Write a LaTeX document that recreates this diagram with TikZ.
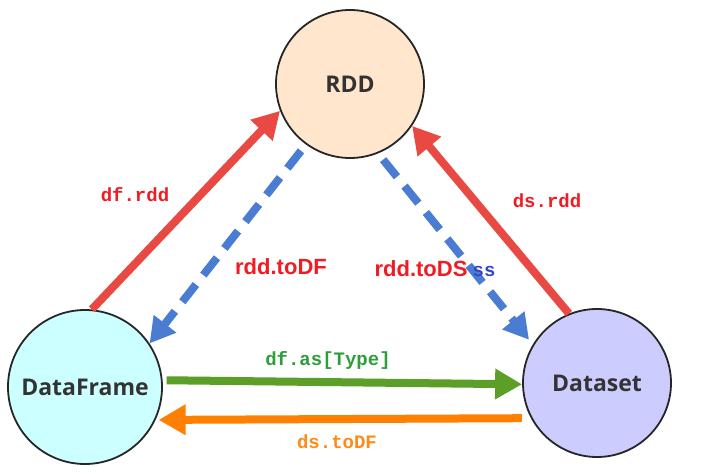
\documentclass[tikz,border=0pt]{standalone}
\usepackage{fontspec}
\setmainfont{Open Sans}
\newfontfamily\labfont{Liberation Sans}
\newfontfamily\codefont{Liberation Mono}
\usetikzlibrary{arrows.meta}
\definecolor{rddfill}{HTML}{FFE6CC}
\definecolor{dffill}{HTML}{CCFFFF}
\definecolor{dsfill}{HTML}{CCCCFF}
\definecolor{redarr}{HTML}{E84A43}
\definecolor{bluearr}{HTML}{4A7CD2}
\definecolor{greenarr}{HTML}{5B9E28}
\definecolor{orangearr}{HTML}{FF8000}
\definecolor{labred}{HTML}{F01C24}
\definecolor{labgreen}{HTML}{2E9E3A}
\definecolor{laborange}{HTML}{FF8A1A}
\definecolor{labblue}{HTML}{3346C8}
\definecolor{nodetext}{HTML}{333333}
\begin{document}
\begin{tikzpicture}[x=1bp,y=-1bp,
  circ/.style={circle, draw=black!85, line width=1.8bp, inner sep=0pt,
    font=\fontsize{23bp}{26bp}\selectfont\bfseries, text=nodetext},
  arr/.style={line width=8bp, -{Triangle[length=27bp,width=29bp]}},
  dasharr/.style={line width=8bp, dash pattern=on 22bp off 12bp, -{Triangle[length=25bp,width=27bp]}},
  codelab/.style={font=\fontsize{19bp}{22bp}\codefont\bfseries, inner sep=1bp},
  sanslab/.style={font=\fontsize{22bp}{24bp}\labfont\bfseries, text=labred, inner sep=1bp}]
\useasboundingbox (0,0) rectangle (708,476);
\fill[white] (0,0) rectangle (708,476);
% nodes
\node[circ, fill=rddfill, minimum size=148bp] (rdd) at (350,84) {RDD};
\node[circ, fill=dffill, minimum size=154bp] (df) at (85,387) {DataFrame};
\node[circ, fill=dsfill, minimum size=148bp] (ds) at (597,383) {Dataset};
% red arrows to RDD
\draw[arr, redarr] (df.85) -- (rdd.201);
\draw[arr, redarr] (ds.112) -- (rdd.-34);
% blue dashed arrows from RDD
\draw[dasharr, bluearr, shorten <=8bp] (rdd.234) -- (df.34);
\draw[dasharr, bluearr, shorten <=8bp, shorten >=6bp] (rdd.-68) -- (ds.149);
% green and orange
\draw[arr, greenarr, shorten <=4bp] (df.5) -- (ds.181);
\draw[arr, orangearr, shorten <=9bp, shorten >=3bp] (ds.208) -- (df.-25.5);
% labels
\node[codelab, text=labred] (l1) at (135,195) {df.rdd};
\node[codelab, text=labred] (l2) at (547,201) {ds.rdd};
\node[sanslab] (l3) at (281,267) {rdd.toDF};
\node[codelab, text=labblue] (l4s) at (484,271) {ss};
\node[sanslab] (l4) at (421,269) {rdd.toDS};
\node[codelab, text=labgreen] (l5) at (328,360) {df.as[Type]};
\node[codelab, text=laborange] (l6) at (337,442) {ds.toDF};
\end{tikzpicture}
\end{document}
